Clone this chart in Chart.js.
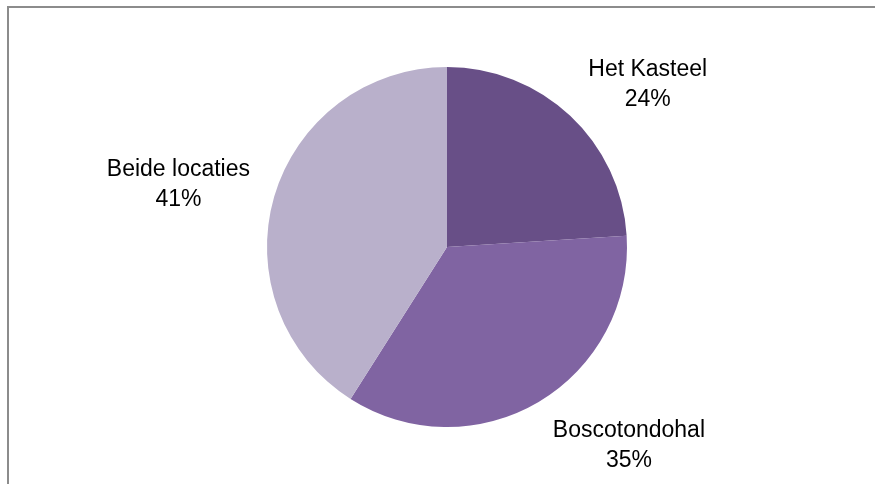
<!DOCTYPE html>
<html>
<head>
<meta charset="utf-8">
<script src="https://cdn.jsdelivr.net/npm/chart.js@4.4.1/dist/chart.umd.min.js"></script>
<style>
    html, body { margin: 0; padding: 0; background: #fff; }
    #wrap { position: relative; width: 875px; height: 484px; overflow: hidden; }
    #frame {
        position: absolute; left: 7px; top: 6px; width: 880px; height: 490px;
        border-top: 2px solid #8c8c8c; border-left: 2px solid #8c8c8c;
    }
    #myChart { position: absolute; left: 0; top: 0; }
</style>
</head>
<body>
<div id="wrap">
    <div id="frame"></div>
    <canvas id="myChart" width="875" height="484"></canvas>
</div>
<script>
    const labels = ['Het Kasteel', 'Boscotondohal', 'Beide locaties']
    const percentages = [24, 35, 41]
    const colors = ['#684f87', '#8064a2', '#b9b0cb']

    // labels outside the slice, Excel style (name on top, percent below)
    const outsideLabels = {
        id: 'outsideLabels',
        afterDatasetsDraw(chart) {
            const ctx = chart.ctx
            const meta = chart.getDatasetMeta(0)
            const fontSize = 23
            const lineHeight = 30
            ctx.save()
            ctx.font = fontSize + 'px "Liberation Sans", Arial, sans-serif'
            ctx.fillStyle = '#000'
            ctx.textAlign = 'center'
            ctx.textBaseline = 'middle'
            meta.data.forEach((arc, i) => {
                const mid = (arc.startAngle + arc.endAngle) / 2
                const r = arc.outerRadius + 22
                const px = arc.x + Math.cos(mid) * r
                const py = arc.y + Math.sin(mid) * r
                const lines = [labels[i], percentages[i] + '%']
                const w = Math.max(...lines.map(l => ctx.measureText(l).width))
                const h = lines.length * lineHeight
                const clamp = v => Math.max(-1, Math.min(1, v))
                const cx = px + clamp(Math.cos(mid) * 2) * (w / 2 + 3)
                const cy = py + clamp(Math.sin(mid) * 2) * 20 + 5
                lines.forEach((l, j) => {
                    ctx.fillText(l, cx, cy - h / 2 + lineHeight * (j + 0.5))
                })
            })
            ctx.restore()
        }
    }

    new Chart(document.getElementById('myChart'), {
        type: 'pie',
        data: {
            labels: labels,
            datasets: [{
                data: percentages,
                backgroundColor: colors,
                borderWidth: 0
            }]
        },
        options: {
            responsive: false,
            animation: false,
            layout: {
                padding: { top: 67, bottom: 57, left: 267, right: 248 }
            },
            plugins: {
                legend: { display: false },
                tooltip: { enabled: false }
            }
        },
        plugins: [outsideLabels]
    })
</script>
</body>
</html>
